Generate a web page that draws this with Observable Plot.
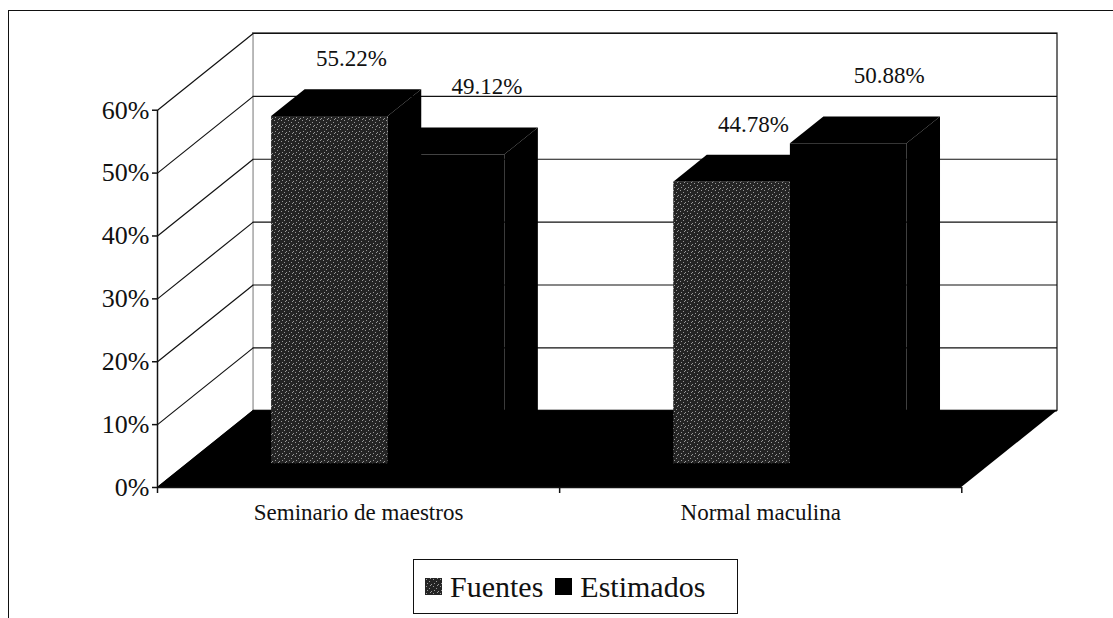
<!DOCTYPE html>
<html><head><meta charset="utf-8">
<script src="https://cdn.jsdelivr.net/npm/d3@7"></script>
<script src="https://cdn.jsdelivr.net/npm/@observablehq/plot@0.6"></script>
<style>
body{margin:0;background:#fff;font-family:"Liberation Serif",serif;}
#frame{position:absolute;left:8px;top:10px;width:1200px;height:700px;border-left:1.5px solid #111;border-top:1.5px solid #111;}
#chart{position:absolute;left:0;top:0;}
#legend{position:absolute;left:413px;top:559px;width:325px;height:55px;border:1px solid #111;box-sizing:border-box;display:flex;align-items:center;font-family:"Liberation Serif",serif !important;font-size:30px;color:#111;background:#fff;}
#legend .sw{display:inline-block;width:17px;height:17px;}
#legend .t{font-family:"Liberation Serif",serif;line-height:1;}
</style></head><body>
<div id="frame"></div>
<div id="chart"></div>
<div id="legend"></div>
<script>
// ---- data ----
const categories = ["Seminario de maestros", "Normal maculina"];
const seriesNames = ["Fuentes", "Estimados"];
const fuentes = [55.22, 44.78];
const estimados = [49.12, 50.88];
const yTicks = [0, 10, 20, 30, 40, 50, 60];

// ---- oblique projection parameters (style) ----
const DX = 0.238;   // x shift per unit depth (category units)
const DY = 12.2;    // y shift per unit depth (percent units)
const D0 = 0.31, D1 = 0.66; // bar depth range
const W = 0.29;     // bar width (category units)
const n = categories.length;
const yMax = 60;
const SERIF = "'Liberation Serif', serif";

const values = [fuentes, estimados];
const bars = [];
categories.forEach((cat, i) => {
  seriesNames.forEach((s, k) => {
    const c = i + 0.5;
    const L = k === 0 ? c - W : c;
    bars.push({cat, series: s, k, v: values[k][i], L, R: L + W, id: i + "-" + k});
  });
});

const fillOf = d => d.k === 0 ? "url(#stipple)" : "#000";

const fronts = bars.map(b => ({...b, x1: b.L + D0 * DX, x2: b.R + D0 * DX, y1: D0 * DY, y2: b.v + D0 * DY}));
const tops = bars.flatMap(b => [
  {id: b.id, y: b.v + D0 * DY, x1: b.L + D0 * DX, x2: b.R + D0 * DX},
  {id: b.id, y: b.v + D1 * DY, x1: b.L + D1 * DX, x2: b.R + D1 * DX}
]);
const sides = bars.flatMap(b => [
  {id: b.id, x: b.R + D0 * DX, y1: D0 * DY, y2: b.v + D0 * DY},
  {id: b.id, x: b.R + D1 * DX, y1: D1 * DY, y2: b.v + D1 * DY}
]);

const floor = [
  {y: 0, x1: 0, x2: n},
  {y: DY, x1: DX, x2: n + DX}
];
const leftWall = [
  {x: 0, y1: 0, y2: yMax},
  {x: DX, y1: DY, y2: yMax + DY}
];
const backWall = [{x1: DX, x2: n + DX, y1: DY, y2: yMax + DY}];

const labels = bars.map(b => ({
  ...b,
  lx: (b.L + b.R) / 2 + D1 * DX,
  ly: b.v + D1 * DY
}));

const chart = Plot.plot({
  width: 1113,
  height: 545,
  marginLeft: 157,
  marginRight: 56,
  marginTop: 33,
  marginBottom: 58,
  style: {fontFamily: SERIF, color: "#111", background: "transparent"},
  x: {type: "linear", domain: [0, n + DX], axis: null},
  y: {type: "linear", domain: [0, yMax + DY], axis: null},
  marks: [
    // walls
    Plot.rect(backWall, {x1: "x1", x2: "x2", y1: "y1", y2: "y2", fill: "white", stroke: "#111", strokeWidth: 1.2}),
    Plot.areaY(leftWall, {x: "x", y1: "y1", y2: "y2", fill: "white", curve: "linear"}),
    Plot.ruleY(yTicks, {y: d => d + DY, x1: DX, x2: n + DX, stroke: "#111", strokeWidth: 1.2}),
    Plot.link(yTicks, {x1: 0, y1: d => d, x2: DX, y2: d => d + DY, stroke: "#111", strokeWidth: 1.2}),
    // floor
    Plot.areaX(floor, {y: "y", x1: "x1", x2: "x2", fill: "#000", curve: "linear"}),
    // bars (left series first so right series covers its side)
    ...bars.map(b => [
      Plot.areaY(sides.filter(s => s.id === b.id), {x: "x", y1: "y1", y2: "y2", fill: "#000", curve: "linear"}),
      Plot.areaX(tops.filter(t => t.id === b.id), {y: "y", x1: "x1", x2: "x2", fill: "#000", curve: "linear"}),
      Plot.rect(fronts.filter(f => f.id === b.id), {x1: "x1", x2: "x2", y1: "y1", y2: "y2", fill: fillOf(b)})
    ]).flat(),
    // front axes
    Plot.ruleX([0], {y1: 0, y2: yMax, stroke: "#111", strokeWidth: 1.5}),
    Plot.ruleY([0], {x1: 0, x2: n, stroke: "#111", strokeWidth: 1.5}),
    Plot.axisY(yTicks, {anchor: "left", tickSize: 5, tickPadding: 3, fontSize: 26, fontFamily: SERIF, tickFormat: d => d + "%", label: null, strokeWidth: 1.5}),
    Plot.axisX(d3.range(n + 1), {anchor: "bottom", tickSize: 6, tickFormat: () => "", label: null, strokeWidth: 1.5}),
    // category labels
    Plot.text(categories, {x: (d, i) => i + 0.5, y: 0, dy: 25, text: d => d, fontSize: 23, fontFamily: SERIF, fill: "#111"}),
    // value labels
    Plot.text(labels.filter(d => d.k === 0), {x: "lx", y: "ly", dx: -12, dy: -31, text: d => d.v.toFixed(2) + "%", fontSize: 23, fontFamily: SERIF, fill: "#111"}),
    Plot.text(labels.filter(d => d.k === 1), {x: "lx", y: "ly", dx: 7, dy: -41, text: d => d.v.toFixed(2) + "%", fontSize: 23, fontFamily: SERIF, fill: "#111"})
  ]
});

// stipple pattern for the "Fuentes" series
const svgNS = "http://www.w3.org/2000/svg";
function addPattern(svg) {
  const defs = document.createElementNS(svgNS, "defs");
  const pat = document.createElementNS(svgNS, "pattern");
  pat.setAttribute("id", "stipple");
  pat.setAttribute("width", 7);
  pat.setAttribute("height", 7);
  pat.setAttribute("patternUnits", "userSpaceOnUse");
  const bg = document.createElementNS(svgNS, "rect");
  bg.setAttribute("width", 7); bg.setAttribute("height", 7); bg.setAttribute("fill", "#242424");
  pat.appendChild(bg);
  [[1, 1], [4, 3], [2, 5], [6, 6], [5, 0]].forEach(([px, py]) => {
    const r = document.createElementNS(svgNS, "rect");
    r.setAttribute("x", px); r.setAttribute("y", py);
    r.setAttribute("width", 1); r.setAttribute("height", 1);
    r.setAttribute("fill", "#999");
    pat.appendChild(r);
  });
  defs.appendChild(pat);
  svg.insertBefore(defs, svg.firstChild);
}
addPattern(chart);
document.getElementById("chart").appendChild(chart);

// legend
const legend = document.getElementById("legend");
seriesNames.forEach((s, k) => {
  const sw = document.createElement("span");
  sw.className = "sw";
  sw.style.marginLeft = k === 0 ? "11px" : "12px";
  sw.style.marginRight = "8px";
  if (k === 0) {
    const s2 = document.createElementNS(svgNS, "svg");
    s2.setAttribute("width", 17); s2.setAttribute("height", 17);
    s2.style.display = "block";
    s2.innerHTML = '<rect width="17" height="17" fill="url(#stipple)"/>';
    sw.appendChild(s2);
  } else {
    sw.style.background = "#000";
  }
  legend.appendChild(sw);
  const t = document.createElement("span");
  t.className = "t";
  t.textContent = s;
  legend.appendChild(t);
});
</script>
</body></html>
